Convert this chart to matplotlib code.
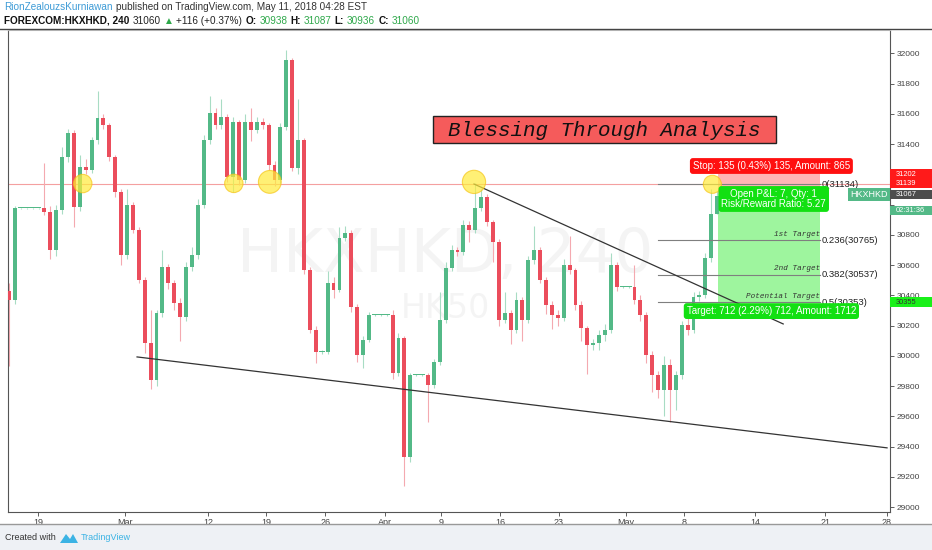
import matplotlib
matplotlib.use('Agg')
import matplotlib.pyplot as plt
from matplotlib.patches import Rectangle, Polygon
from matplotlib.transforms import IdentityTransform
import numpy as np

# 12h bars, FOREXCOM:HKXHKD (prices)
first_open = 30430
closes = [30370, 30975, 30975, 30975, 30975, 30975, 30950, 30700, 30964, 31315,
          31473, 30985, 31249, 31229, 31427, 31572, 31526, 31315, 31083, 30667,
          30997, 30832, 30502, 30085, 29841, 30284, 30589, 30482, 30350, 30257,
          30589, 30667, 30997, 31427, 31605, 31526, 31579, 31182, 31546, 31163,
          31546, 31493, 31546, 31526, 31262, 31163, 31513, 31956, 31242, 31427,
          30568, 30171, 30026, 30026, 30482, 30436, 30779, 30812, 30323, 30007,
          30105, 30270, 30270, 30270, 30270, 29887, 30118, 29332, 29874, 29874,
          29874, 29808, 29960, 30238, 30582, 30700, 30687, 30865, 30832, 30978,
          31050, 30885, 30753, 30238, 30284, 30171, 30370, 30238, 30634, 30700,
          30502, 30337, 30270, 30251, 30601, 30568, 30337, 30184, 30072, 30085,
          30138, 30171, 30601, 30455, 30455, 30455, 30370, 30270, 30007, 29874,
          29775, 29940, 29775, 29874, 30202, 30171, 30390, 30403, 30647, 30938,
          31060]
highs = [30480, 30990, 30980, 30980, 30980, 30980, 31275, 30990, 31000, 31380,
         31500, 31490, 31330, 31300, 31450, 31750, 31600, 31540, 31330, 31100,
         31100, 31020, 30850, 30520, 30300, 30300, 30700, 30610, 30500, 30380,
         30620, 30720, 31040, 31460, 31720, 31640, 31700, 31600, 31580, 31560,
         31600, 31640, 31580, 31570, 31540, 31290, 31540, 32020, 31970, 31700,
         31440, 30590, 30200, 30040, 30560, 30520, 30850, 30860, 30830, 30340,
         30130, 30290, 30275, 30275, 30275, 30300, 30150, 30130, 29890, 29880,
         29880, 29890, 29980, 30420, 30620, 30730, 30720, 30900, 30890, 31140,
         31100, 31070, 30900, 30770, 30420, 30300, 30420, 30390, 30660, 30860,
         30720, 30520, 30360, 30300, 30640, 30790, 30580, 30360, 30200, 30110,
         30170, 30210, 30680, 30620, 30460, 30460, 30600, 30400, 30290, 30030,
         29900, 30000, 29980, 29900, 30230, 30280, 30420, 30430, 30680, 31100,
         31087]
lows = [29930, 30340, 30970, 30970, 30970, 30970, 30930, 30640, 30660, 30940,
        31280, 30850, 30960, 31200, 31210, 31400, 31500, 31290, 31050, 30600,
        30640, 30810, 30480, 30020, 29780, 29800, 30260, 30440, 30300, 30100,
        30230, 30560, 30640, 30980, 31400, 31500, 31500, 31150, 31080, 31130,
        31140, 31420, 31470, 31500, 31230, 31120, 31140, 31490, 31220, 31200,
        30540, 30150, 29950, 30010, 30010, 30380, 30420, 30760, 30290, 29960,
        29920, 30090, 30265, 30265, 30265, 29850, 29870, 29140, 29300, 29868,
        29868, 29560, 29790, 29940, 30220, 30560, 30660, 30670, 30750, 30810,
        30960, 30860, 30620, 30200, 30220, 30080, 30150, 30100, 30220, 30610,
        30480, 30280, 30180, 30200, 30230, 30540, 30300, 30100, 29880, 30040,
        30040, 30100, 30150, 30430, 30450, 30450, 30340, 30230, 29950, 29760,
        29720, 29600, 29560, 29640, 29850, 30140, 30150, 30360, 30380, 30620,
        30936]

# date ticks (bar positions) and labels
tick_bars = [4.9, 19.7, 33.7, 43.6, 53.6, 63.7, 73.2, 83.2, 93.2, 104.6, 114.4, 126.4, 138.3, 148.8]
tick_labels = ['19', 'Mar', '12', '19', '26', 'Apr', '9', '16', '23', 'May', '8', '14', '21', '28']
price_ticks = list(range(29000, 32001, 200))
hidden_ticks = [31000, 31200]  # covered by the price tags

# drawings
hline_price = 31139
upper_trend = ([78.8, 131.2], [31136, 30211])
lower_trend = ([21.7, 148.8], [29993, 29392])
circle_bars = [12.5, 38.1, 44.2, 78.8, 119.2]
circle_prices = [31139, 31140, 31150, 31150, 31134]
circle_sizes = [175, 175, 270, 280, 170]

fib_ratios = ['0', '0.236', '0.382', '0.5']
fib_prices = [31134, 30765, 30537, 30353]
fib_names = ['', '1st Target', '2nd Target', 'Potential Target']
fib_start, fib_end = 110, 137.5

entry, stop, target = 31067, 31202, 30355
pos_start, pos_end = 120.2, 137.5

up_c, dn_c = '#53b987', '#eb4d5c'
up_w, dn_w = '#a8dcc4', '#f4a9b0'

fig = plt.figure(figsize=(9.32, 5.5), dpi=100)
fig.patch.set_facecolor('white')
ax = fig.add_axes([8 / 932, 38 / 550, 882 / 932, 482 / 550])

o = np.array([first_open] + closes[:-1], dtype=float)
c = np.array(closes, dtype=float)
h = np.array(highs, dtype=float)
l = np.array(lows, dtype=float)
x = np.arange(len(c))
up = c >= o
lo_b = np.minimum(o, c)
hgt = np.maximum(np.abs(c - o), 8)
wid = np.where(o == c, 1.0, 0.66)

# watermark
ax.text(0.4955, 0.533, 'HKXHKD, 240', transform=ax.transAxes, fontsize=44,
        color='#f4f4f4', ha='center', va='center', zorder=0)
ax.text(0.4955, 0.423, 'HK50', transform=ax.transAxes, fontsize=24,
        color='#f4f4f4', ha='center', va='center', zorder=0)

ax.axhline(hline_price, color='#f4a0a0', lw=0.8, zorder=1)

ax.vlines(x[up], l[up], h[up], color=up_w, lw=0.8, zorder=2)
ax.vlines(x[~up], l[~up], h[~up], color=dn_w, lw=0.8, zorder=2)
ax.bar(x[up], hgt[up], bottom=lo_b[up], width=wid[up], color=up_c, lw=0, zorder=3)
ax.bar(x[~up], hgt[~up], bottom=lo_b[~up], width=wid[~up], color=dn_c, lw=0, zorder=3)

# position tool zones
ax.add_patch(Rectangle((pos_start, entry), pos_end - pos_start, stop - entry,
                       fc='#ffb5b5', ec='none', zorder=1.5))
ax.add_patch(Rectangle((pos_start, target), pos_end - pos_start, entry - target,
                       fc='#9ef59e', ec='none', zorder=1.5))

# fib levels
for r, p, n in zip(fib_ratios, fib_prices, fib_names):
    ax.plot([fib_start, fib_end], [p, p], color='#7f7f7f', lw=0.8, zorder=4)
    ax.text(fib_end + 0.2, p, f'{r}({p})', fontsize=6.8, color='#222222',
            family='Liberation Sans', ha='left', va='center', zorder=6)
    if n:
        ax.text(fib_end, p + 15, n, fontsize=5.5, color='#333333', family='Liberation Mono',
                style='italic', ha='right', va='bottom', zorder=6)

ax.plot(*upper_trend, color='#333333', lw=0.9, zorder=5)
ax.plot(*lower_trend, color='#333333', lw=0.9, zorder=5)

ax.scatter(circle_bars, circle_prices, s=circle_sizes, c='#ffeb3b', alpha=0.7,
           edgecolors='#f5c518', linewidths=0.8, zorder=7)

lbl = dict(fontsize=7, color='white', family='Liberation Sans', ha='center', va='center', zorder=9)
ax.text(129.2, 31255, 'Stop: 135 (0.43%) 135, Amount: 865',
        bbox=dict(boxstyle='round,pad=0.3,rounding_size=0.3', fc='#ff1010', ec='none'), **lbl)
ax.text(129.6, 31037, 'Open P&L: 7, Qty: 1\nRisk/Reward Ratio: 5.27', linespacing=1.0,
        bbox=dict(boxstyle='round,pad=0.3,rounding_size=0.3', fc='#12e012', ec='none'), **lbl)
ax.text(129.2, 30296, 'Target: 712 (2.29%) 712, Amount: 1712',
        bbox=dict(boxstyle='round,pad=0.3,rounding_size=0.3', fc='#12e012', ec='none'), **lbl)

# title box in pixel coords (y from bottom)
fig.patches.append(Rectangle((433, 550 - 143), 343, 27, transform=IdentityTransform(),
                             fc='#f55b5b', ec='#222222', lw=1, zorder=0.5))
fig.text(604, 550 - 130, 'Blessing Through Analysis', transform=IdentityTransform(),
         fontsize=15, family='Liberation Mono', style='italic', color='#111111',
         ha='center', va='center', zorder=9)

ax.set_xlim(-0.17, 149.3)
ax.set_ylim(28968, 32154)
ax.yaxis.tick_right()
ax.set_yticks(price_ticks)
ax.set_yticklabels(['' if p in hidden_ticks else str(p) for p in price_ticks])
ax.set_xticks(tick_bars)
ax.set_xticklabels(tick_labels)
ax.tick_params(axis='y', labelsize=6, colors='#444444', length=3, pad=2, width=0.6)
ax.tick_params(axis='x', labelsize=6.5, colors='#444444', length=3, pad=1.5, width=0.6)
for lab in ax.get_xticklabels() + ax.get_yticklabels():
    lab.set_family('Liberation Sans')
for s in ax.spines.values():
    s.set_color('#555555')
    s.set_linewidth(0.8)
ax.spines['top'].set_color('#cccccc')

# price-axis tags
ytr = ax.get_yaxis_transform()
tags = [(31202, '31202', '#ff1a1a', 'white'), (31139, '31139', '#ff1a1a', 'white'),
        (31067, '31067', '#4d4d4d', 'white'), (30962, '02:31:36', '#53b987', 'white'),
        (30355, '30355', '#19f019', '#333333')]
for p, t, fc, tc in tags:
    ax.add_patch(Rectangle((1.0, p - 31), 0.05, 62, transform=ytr, fc=fc, ec='none',
                           clip_on=False, zorder=10))
    ax.text(1.006, p, t, transform=ytr, fontsize=5.4, color=tc, family='Liberation Sans',
            ha='left', va='center', clip_on=False, zorder=11)
ax.text(0.997, 31067, 'HKXHKD', transform=ytr, fontsize=6.5, color='white',
        family='Liberation Sans', ha='right', va='center', zorder=11,
        bbox=dict(boxstyle='square,pad=0.25', fc='#53b987', ec='none'))

# header / footer frames
fig.add_artist(plt.Line2D([0, 932], [521.5, 521.5], transform=IdentityTransform(),
                          color='#444444', lw=1))
fig.add_artist(plt.Line2D([0, 932], [26, 26], transform=IdentityTransform(),
                          color='#999999', lw=1))
fig.patches.append(Rectangle((0, 0), 932, 25.5, transform=IdentityTransform(),
                             fc='#eef1f5', ec='none', zorder=0))

renderer = fig.canvas.get_renderer()


def text_run(x0, y0, parts, size):
    xx = x0
    for s, col, wt in parts:
        t = fig.text(xx, y0, s, transform=IdentityTransform(), fontsize=size, color=col,
                     fontweight=wt, family='Liberation Sans', ha='left', va='center')
        xx = t.get_window_extent(renderer).x1 + 3


g = '#2ea84a'
text_run(4, 542.5, [('RionZealouzsKurniawan', '#3d9bd6', 'normal'),
                    ('published on TradingView.com, May 11, 2018 04:28 EST', '#333333', 'normal')], 7.2)
text_run(4, 529.5, [('FOREXCOM:HKXHKD, 240', '#111111', 'bold'),
                    ('31060', '#222222', 'normal'), ('\u25B2', g, 'normal'),
                    ('+116 (+0.37%)', '#222222', 'normal'), ('O:', '#111111', 'bold'),
                    ('30938', g, 'normal'), ('H:', '#111111', 'bold'), ('31087', g, 'normal'),
                    ('L:', '#111111', 'bold'), ('30936', g, 'normal'), ('C:', '#111111', 'bold'),
                    ('31060', g, 'normal')], 7.2)

# footer
fig.text(5, 12, 'Created with', transform=IdentityTransform(), fontsize=6.5, color='#333333',
         family='Liberation Sans', ha='left', va='center')
fig.patches.append(Polygon([[60, 7], [66, 16], [70, 11], [73, 16], [78, 7]], closed=True,
                           transform=IdentityTransform(), fc='#3bb3e4', ec='none'))
fig.text(81, 12, 'TradingView', transform=IdentityTransform(), fontsize=6.5, color='#3bb3e4',
         family='Liberation Sans', ha='left', va='center')

fig.savefig('out.png', dpi=100)
